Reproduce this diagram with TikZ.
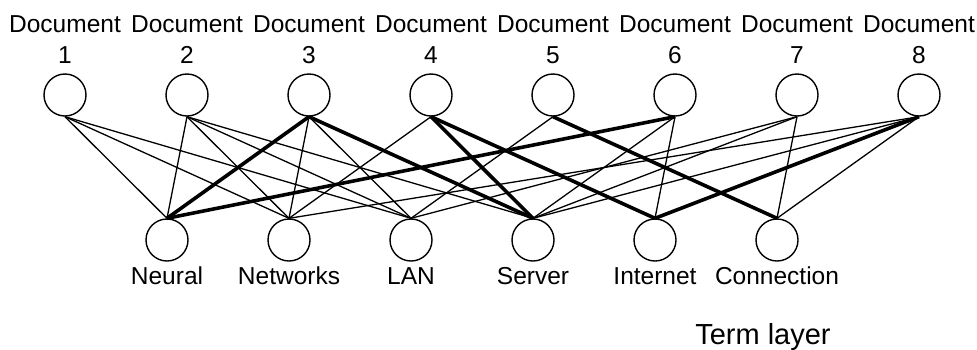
\documentclass[tikz,border=0pt]{standalone}
\usepackage{fontspec}
\setmainfont{Liberation Sans}
\begin{document}
\begin{tikzpicture}[x=1pt,y=-1pt,
  unit/.style={circle,draw,line width=1.4pt,minimum size=42pt,inner sep=0pt},
  lbl/.style={font=\fontsize{24.5}{31}\selectfont,align=center,inner sep=0pt},
  link/.style={line width=1.3pt},
  strong/.style={line width=3.6pt}]
\useasboundingbox (0,0) rectangle (977,349);
% document layer
\foreach \i in {1,...,8} {
  \node[unit] (d\i) at ({65+122*(\i-1)},95) {};
  \node[lbl,anchor=south] (dl\i) at ({65+122*(\i-1)},63.5) {Document\\\i};
}
% term layer
\foreach \j/\w in {1/Neural,2/Networks,3/LAN,4/Server,5/Internet,6/Connection} {
  \node[unit] (t\j) at ({167+122*(\j-1)},240) {};
  \node[lbl,anchor=base] (tl\j) at ({167+122*(\j-1)},284) {\w};
}
\node[font=\fontsize{29}{34}\selectfont,anchor=base,inner sep=0pt] (layer) at (763,344) {Term layer};
% ordinary links
\foreach \a/\b in {1/1,1/2,1/3,2/1,2/2,2/3,2/4,3/2,3/3,4/2,5/3,6/4,6/5,7/3,7/4,7/6,8/2,8/4,8/6}
  \draw[link] (d\a.south) -- (t\b.north);
% strong links
\foreach \a/\b in {3/1,3/4,4/4,4/5,5/6,6/1,8/5}
  \draw[strong] (d\a.south) -- (t\b.north);
\end{tikzpicture}
\end{document}
